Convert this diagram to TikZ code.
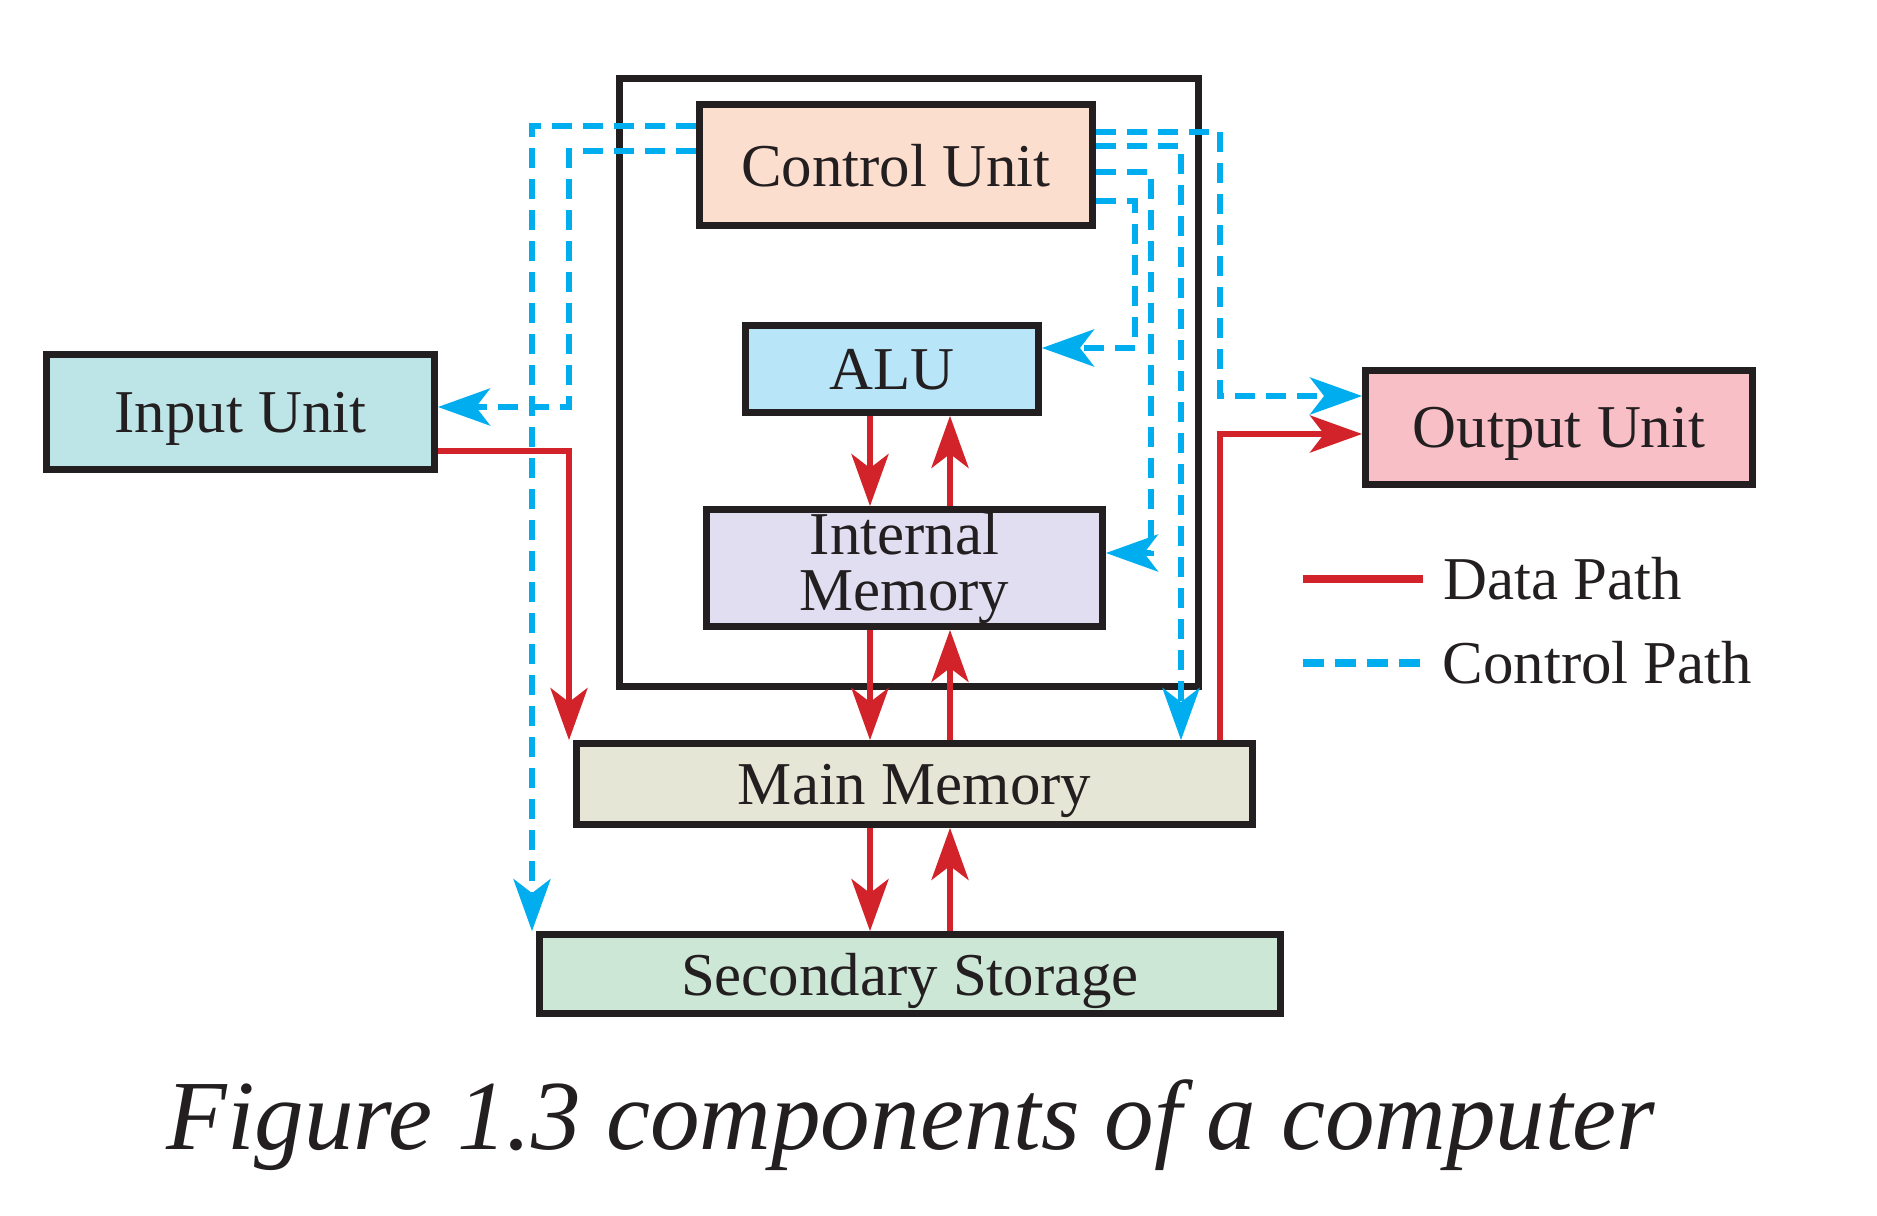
\documentclass[tikz,border=0pt]{standalone}
\usepackage{fontspec}
\setmainfont{Liberation Serif}
\usetikzlibrary{arrows.meta, positioning}
\definecolor{compRed}{RGB}{210,35,42}
\definecolor{compCyan}{RGB}{0,174,239}
\definecolor{compBorder}{RGB}{35,31,32}
\definecolor{compPeach}{RGB}{252,222,206}
\definecolor{compSky}{RGB}{185,229,248}
\definecolor{compLavender}{RGB}{224,222,240}
\definecolor{compTeal}{RGB}{189,228,230}
\definecolor{compPink}{RGB}{249,191,199}
\definecolor{compKhaki}{RGB}{229,230,213}
\definecolor{compMint}{RGB}{205,231,214}

\begin{document}
\begin{tikzpicture}[
        x=0.01cm, y=-0.01cm,
        unitbox/.style={rectangle, draw=compBorder, line width=1.9pt, inner sep=0pt, align=center, text depth=0pt, text=compBorder, font=\fontsize{17.3}{16}\selectfont},
        datapath/.style={-{Stealth[length=0.52cm, width=0.37cm, inset=0.14cm]}, line width=1.75pt, compRed},
        ctrlpath/.style={-{Stealth[length=0.52cm, width=0.37cm, inset=0.14cm]}, line width=1.75pt, compCyan, dash pattern=on 0.2cm off 0.11cm},
        legendtext/.style={inner sep=0pt, text=compBorder, font=\fontsize{17.3}{19}\selectfont}
    ]
        \useasboundingbox (0,0) rectangle (1877,1216);

        % CPU frame
        \node[draw=compBorder, line width=1.9pt, minimum width=5.79cm, minimum height=6.08cm] (cpu) at (909,382.5) {};

        % Units
        \node[unitbox, fill=compPeach, minimum width=3.93cm, minimum height=1.21cm] (cu) at (896,165) {Control Unit};
        \node[unitbox, fill=compSky, minimum width=2.93cm, minimum height=0.87cm] (alu) at (892,369) {ALU};
        \node[unitbox, fill=compLavender, minimum width=3.96cm, minimum height=1.17cm, text depth=0.13cm] (im) at (904.5,568) {Internal\\Memory};
        \node[unitbox, fill=compTeal, minimum width=3.88cm, minimum height=1.15cm] (input) at (240.5,412) {Input Unit};
        \node[unitbox, fill=compPink, minimum width=3.87cm, minimum height=1.14cm] (output) at (1559,427.5) {Output Unit};
        \node[unitbox, fill=compKhaki, minimum width=6.76cm, minimum height=0.81cm] (mm) at (914.5,784) {Main Memory};
        \node[unitbox, fill=compMint, minimum width=7.41cm, minimum height=0.79cm] (ss) at (910,974) {Secondary Storage};

        % Data paths
        \coordinate (dn) at (870,0);
        \coordinate (up) at (950,0);
        \draw[datapath] (alu.south -| dn) -- (im.north -| dn);
        \draw[datapath] (im.north -| up) -- (alu.south -| up);
        \draw[datapath] (im.south -| dn) -- (mm.north -| dn);
        \draw[datapath] (mm.north -| up) -- (im.south -| up);
        \draw[datapath] (mm.south -| dn) -- (ss.north -| dn);
        \draw[datapath] (ss.north -| up) -- (mm.south -| up);
        \draw[datapath] (input.east |- 0,451) -| (mm.north -| 569,0);
        \draw[datapath] (mm.north -| 1220,0) |- (output.west |- 0,434);

        % Control paths
        \draw[ctrlpath] (cu.west |- 0,126) -| (ss.north -| 532,0);
        \draw[ctrlpath] (cu.west |- 0,151) -| (569,407) -- (input.east |- 0,407);
        \draw[ctrlpath] (cu.east |- 0,132) -| (1220,396) -- (output.west |- 0,396);
        \draw[ctrlpath] (cu.east |- 0,146) -| (mm.north -| 1181,0);
        \draw[ctrlpath] (cu.east |- 0,172) -| (1151,553) -- (im.east |- 0,553);
        \draw[ctrlpath] (cu.east |- 0,201) -| (1135,348) -- (alu.east |- 0,348);

        % Legend
        \coordinate (dataL) at (1303,579);
        \coordinate (dataR) at (1423,579);
        \coordinate (ctrlL) at (1303,663);
        \coordinate (ctrlR) at (1423,663);
        \draw[compRed, line width=2.3pt] (dataL) -- (dataR);
        \draw[compCyan, line width=2.3pt, dash pattern=on 0.21cm off 0.11cm] (ctrlL) -- (ctrlR);
        \node[legendtext, right=0.2cm of dataR] (datalbl) {Data Path};
        \node[legendtext, right=0.19cm of ctrlR] (ctrllbl) {Control Path};

        % Caption
        \node[inner sep=0pt, anchor=base, text=compBorder, font=\fontsize{28.2}{34}\selectfont\itshape] (caption) at (911,1149) {Figure 1.3 components of a computer};
    \end{tikzpicture}
\end{document}
